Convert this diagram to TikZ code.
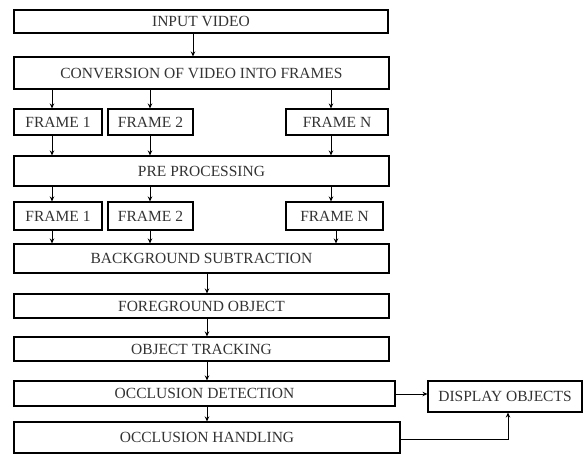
\documentclass[tikz,border=0pt]{standalone}
\usepackage{fontspec}
\setmainfont{Liberation Serif}
\usetikzlibrary{arrows.meta}
\begin{document}
\begin{tikzpicture}[x=1pt,y=-1pt,
  box/.style={draw=black, line width=1.1pt, rectangle, inner sep=0pt, text=black!80,
    font=\fontsize{15.5}{18}\selectfont},
  arr/.style={draw=black, line width=0.9pt, -{Stealth[length=5pt,width=4.5pt]}}]
\useasboundingbox (0,0) rectangle (584,456);
\node[box, minimum width=374pt, minimum height=23pt] (in) at (201,21.5) {INPUT VIDEO};
\node[box, minimum width=375pt, minimum height=32pt] (conv) at (201.5,73) {CONVERSION OF VIDEO INTO FRAMES};
\node[box, minimum width=88pt, minimum height=26pt] (f1a) at (58,122) {FRAME 1};
\node[box, minimum width=85pt, minimum height=26pt] (f2a) at (150.5,122) {FRAME 2};
\node[box, minimum width=102pt, minimum height=26pt] (fNa) at (337,122) {FRAME N};
\node[box, minimum width=375pt, minimum height=30pt] (pre) at (201.5,171) {PRE PROCESSING};
\node[box, minimum width=88pt, minimum height=28pt] (f1b) at (58,216) {FRAME 1};
\node[box, minimum width=85pt, minimum height=28pt] (f2b) at (150.5,216) {FRAME 2};
\node[box, minimum width=97pt, minimum height=28pt] (fNb) at (334.5,216) {FRAME N};
\node[box, minimum width=375pt, minimum height=29pt] (bg) at (201.5,258.5) {BACKGROUND SUBTRACTION};
\node[box, minimum width=375pt, minimum height=24pt] (fg) at (201.5,306) {FOREGROUND OBJECT};
\node[box, minimum width=375pt, minimum height=24pt] (ot) at (201.5,349) {OBJECT TRACKING};
\node[box, minimum width=381pt, minimum height=25pt] (od) at (204.5,393.5) {OCCLUSION DETECTION};
\node[box, minimum width=386pt, minimum height=31pt] (oh) at (207,437.5) {OCCLUSION HANDLING};
\node[box, minimum width=154pt, minimum height=31pt] (disp) at (505,396.5) {DISPLAY OBJECTS};
\coordinate (c0) at (193,0);
\coordinate (c1) at (52,0);
\coordinate (c2) at (150,0);
\coordinate (cN) at (331,0);
\coordinate (cM) at (336,0);
\coordinate (cc) at (207,0);
\coordinate (ck) at (508,0);
\draw[arr] (in.south -| c0) -- (conv.north -| c0);
\draw[arr] (conv.south -| c1) -- (f1a.north -| c1);
\draw[arr] (conv.south -| c2) -- (f2a.north -| c2);
\draw[arr] (conv.south -| cN) -- (fNa.north -| cN);
\draw[arr] (f1a.south -| c1) -- (pre.north -| c1);
\draw[arr] (f2a.south -| c2) -- (pre.north -| c2);
\draw[arr] (fNa.south -| cN) -- (pre.north -| cN);
\draw[arr] (pre.south -| c1) -- (f1b.north -| c1);
\draw[arr] (pre.south -| c2) -- (f2b.north -| c2);
\draw[arr] (pre.south -| cN) -- (fNb.north -| cN);
\draw[arr] (f1b.south -| c1) -- (bg.north -| c1);
\draw[arr] (f2b.south -| c2) -- (bg.north -| c2);
\draw[arr] (fNb.south -| cM) -- (bg.north -| cM);
\draw[arr] (bg.south -| cc) -- (fg.north -| cc);
\draw[arr] (fg.south -| cc) -- (ot.north -| cc);
\draw[arr] (ot.south -| cc) -- (od.north -| cc);
\draw[arr] (od.south -| cc) -- (oh.north -| cc);
\draw[arr] ([yshift=-0.5pt]od.east) -- ([yshift=-0.5pt]od.east -| disp.west);
\draw[arr] ([yshift=-1.5pt]oh.east) -| (ck |- disp.south);
\end{tikzpicture}
\end{document}
